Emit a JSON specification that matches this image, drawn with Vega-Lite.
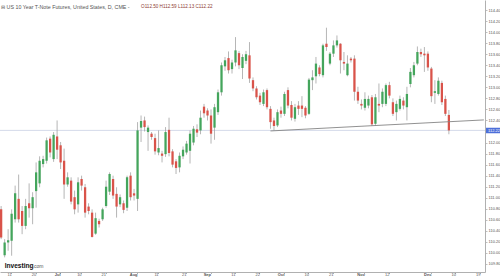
{
  "$schema": "https://vega.github.io/schema/vega-lite/v6.json",
  "width": 485,
  "height": 272,
  "padding": {"left": 0, "top": 0, "right": 15, "bottom": 5},
  "autosize": {"type": "none"},
  "background": "white",
  "config": {"view": {"stroke": null}, "font": "Liberation Sans", "axis": {"labelOverlap": false, "labelFlush": false, "grid": false, "title": null}},
  "datasets": {
    "ohlc": [
      {"d":"2025-06-06","o":110.79,"h":110.85,"l":110.25,"c":110.28},
      {"d":"2025-06-09","o":109.96,"h":110.25,"l":109.92,"c":110.19},
      {"d":"2025-06-10","o":110.19,"h":110.43,"l":110.04,"c":110.23},
      {"d":"2025-06-11","o":110.22,"h":110.79,"l":109.95,"c":110.71},
      {"d":"2025-06-12","o":110.61,"h":111.22,"l":110.55,"c":111.08},
      {"d":"2025-06-13","o":110.98,"h":111.42,"l":110.55,"c":110.61},
      {"d":"2025-06-16","o":110.76,"h":110.85,"l":110.34,"c":110.49},
      {"d":"2025-06-17","o":110.49,"h":110.98,"l":110.43,"c":110.85},
      {"d":"2025-06-18","o":110.90,"h":111.26,"l":110.64,"c":110.81},
      {"d":"2025-06-19","o":110.81,"h":111.10,"l":110.52,"c":111.01},
      {"d":"2025-06-20","o":111.12,"h":111.64,"l":110.82,"c":111.46},
      {"d":"2025-06-23","o":111.26,"h":111.75,"l":111.19,"c":111.67},
      {"d":"2025-06-24","o":111.61,"h":111.76,"l":111.55,"c":111.70},
      {"d":"2025-06-25","o":111.67,"h":112.09,"l":111.62,"c":112.04},
      {"d":"2025-06-26","o":112.07,"h":112.11,"l":111.73,"c":111.82},
      {"d":"2025-06-27","o":111.70,"h":112.19,"l":111.65,"c":112.14},
      {"d":"2025-06-30","o":112.11,"h":112.40,"l":111.70,"c":111.87},
      {"d":"2025-07-01","o":111.95,"h":112.01,"l":111.52,"c":111.64},
      {"d":"2025-07-02","o":111.67,"h":111.89,"l":110.98,"c":111.24},
      {"d":"2025-07-03","o":111.24,"h":111.46,"l":111.20,"c":111.37},
      {"d":"2025-07-07","o":111.31,"h":111.37,"l":110.88,"c":110.93},
      {"d":"2025-07-08","o":111.01,"h":111.13,"l":110.70,"c":110.79},
      {"d":"2025-07-09","o":110.88,"h":111.37,"l":110.73,"c":111.28},
      {"d":"2025-07-10","o":111.34,"h":111.40,"l":111.13,"c":111.22},
      {"d":"2025-07-11","o":111.19,"h":111.25,"l":110.64,"c":110.73},
      {"d":"2025-07-14","o":110.84,"h":110.90,"l":110.70,"c":110.76},
      {"d":"2025-07-15","o":110.73,"h":110.79,"l":110.28,"c":110.29},
      {"d":"2025-07-16","o":110.35,"h":110.73,"l":110.33,"c":110.63},
      {"d":"2025-07-17","o":110.58,"h":110.62,"l":110.46,"c":110.52},
      {"d":"2025-07-18","o":110.61,"h":110.82,"l":110.58,"c":110.79},
      {"d":"2025-07-21","o":110.85,"h":111.31,"l":110.82,"c":111.20},
      {"d":"2025-07-22","o":111.11,"h":111.46,"l":111.05,"c":111.43},
      {"d":"2025-07-23","o":111.34,"h":111.40,"l":110.98,"c":111.04},
      {"d":"2025-07-24","o":111.07,"h":111.19,"l":110.64,"c":110.84},
      {"d":"2025-07-25","o":110.88,"h":111.06,"l":110.83,"c":111.01},
      {"d":"2025-07-28","o":110.90,"h":110.95,"l":110.72,"c":110.78},
      {"d":"2025-07-29","o":110.82,"h":111.40,"l":110.76,"c":111.37},
      {"d":"2025-07-30","o":111.40,"h":111.46,"l":110.95,"c":111.01},
      {"d":"2025-07-31","o":111.08,"h":111.16,"l":110.95,"c":111.04},
      {"d":"2025-08-01","o":110.98,"h":112.37,"l":110.76,"c":112.22},
      {"d":"2025-08-04","o":112.27,"h":112.49,"l":112.01,"c":112.39},
      {"d":"2025-08-05","o":112.40,"h":112.47,"l":112.20,"c":112.28},
      {"d":"2025-08-06","o":112.19,"h":112.31,"l":111.85,"c":112.27},
      {"d":"2025-08-07","o":112.16,"h":112.19,"l":112.05,"c":112.10},
      {"d":"2025-08-08","o":112.08,"h":112.16,"l":111.78,"c":111.84},
      {"d":"2025-08-11","o":111.82,"h":112.22,"l":111.77,"c":111.90},
      {"d":"2025-08-12","o":111.80,"h":111.85,"l":111.64,"c":111.76},
      {"d":"2025-08-13","o":111.79,"h":112.28,"l":111.74,"c":112.19},
      {"d":"2025-08-14","o":112.23,"h":112.45,"l":111.75,"c":111.81},
      {"d":"2025-08-15","o":111.84,"h":111.88,"l":111.55,"c":111.60},
      {"d":"2025-08-18","o":111.66,"h":111.70,"l":111.43,"c":111.54},
      {"d":"2025-08-19","o":111.55,"h":111.82,"l":111.46,"c":111.76},
      {"d":"2025-08-20","o":111.75,"h":111.93,"l":111.70,"c":111.87},
      {"d":"2025-08-21","o":111.82,"h":112.03,"l":111.78,"c":111.98},
      {"d":"2025-08-22","o":111.85,"h":112.22,"l":111.62,"c":112.16},
      {"d":"2025-08-25","o":112.00,"h":112.30,"l":111.95,"c":112.25},
      {"d":"2025-08-26","o":112.24,"h":112.33,"l":112.10,"c":112.18},
      {"d":"2025-08-27","o":112.22,"h":112.58,"l":112.15,"c":112.45},
      {"d":"2025-08-28","o":112.65,"h":112.70,"l":112.45,"c":112.53},
      {"d":"2025-08-29","o":112.58,"h":112.62,"l":112.40,"c":112.49},
      {"d":"2025-09-02","o":112.49,"h":112.60,"l":111.98,"c":112.16},
      {"d":"2025-09-03","o":112.27,"h":112.70,"l":112.05,"c":112.64},
      {"d":"2025-09-04","o":112.55,"h":112.96,"l":112.50,"c":112.91},
      {"d":"2025-09-05","o":112.91,"h":113.45,"l":112.85,"c":113.40},
      {"d":"2025-09-08","o":113.38,"h":113.55,"l":113.30,"c":113.49},
      {"d":"2025-09-09","o":113.53,"h":113.65,"l":113.25,"c":113.31},
      {"d":"2025-09-10","o":113.33,"h":113.50,"l":113.25,"c":113.45},
      {"d":"2025-09-11","o":113.45,"h":113.91,"l":113.38,"c":113.67},
      {"d":"2025-09-12","o":113.62,"h":113.66,"l":113.33,"c":113.40},
      {"d":"2025-09-15","o":113.35,"h":113.60,"l":113.15,"c":113.55},
      {"d":"2025-09-16","o":113.48,"h":113.66,"l":113.42,"c":113.60},
      {"d":"2025-09-17","o":113.58,"h":113.82,"l":113.08,"c":113.16},
      {"d":"2025-09-18","o":113.13,"h":113.18,"l":112.93,"c":112.98},
      {"d":"2025-09-19","o":112.98,"h":113.02,"l":112.78,"c":112.82},
      {"d":"2025-09-22","o":112.85,"h":112.90,"l":112.68,"c":112.73},
      {"d":"2025-09-23","o":112.70,"h":112.96,"l":112.66,"c":112.91},
      {"d":"2025-09-24","o":112.95,"h":112.98,"l":112.60,"c":112.64},
      {"d":"2025-09-25","o":112.61,"h":112.66,"l":112.25,"c":112.37},
      {"d":"2025-09-26","o":112.40,"h":112.45,"l":112.22,"c":112.30},
      {"d":"2025-09-29","o":112.31,"h":112.60,"l":112.28,"c":112.55},
      {"d":"2025-09-30","o":112.58,"h":112.65,"l":112.45,"c":112.52},
      {"d":"2025-10-01","o":112.52,"h":112.92,"l":112.48,"c":112.88},
      {"d":"2025-10-02","o":112.95,"h":113.00,"l":112.62,"c":112.67},
      {"d":"2025-10-03","o":112.68,"h":112.75,"l":112.40,"c":112.45},
      {"d":"2025-10-06","o":112.43,"h":112.70,"l":112.38,"c":112.64},
      {"d":"2025-10-07","o":112.67,"h":112.75,"l":112.50,"c":112.61},
      {"d":"2025-10-08","o":112.67,"h":112.84,"l":112.46,"c":112.61},
      {"d":"2025-10-09","o":112.63,"h":112.66,"l":112.44,"c":112.49},
      {"d":"2025-10-10","o":112.52,"h":113.17,"l":112.50,"c":113.14},
      {"d":"2025-10-13","o":113.13,"h":113.31,"l":112.95,"c":113.18},
      {"d":"2025-10-14","o":113.20,"h":113.55,"l":113.07,"c":113.43},
      {"d":"2025-10-15","o":113.36,"h":113.40,"l":113.20,"c":113.24},
      {"d":"2025-10-16","o":113.22,"h":113.79,"l":113.18,"c":113.76},
      {"d":"2025-10-17","o":113.79,"h":114.08,"l":113.66,"c":113.73},
      {"d":"2025-10-20","o":113.43,"h":113.64,"l":113.40,"c":113.61},
      {"d":"2025-10-21","o":113.61,"h":113.85,"l":113.55,"c":113.76},
      {"d":"2025-10-22","o":113.76,"h":113.94,"l":113.72,"c":113.85},
      {"d":"2025-10-23","o":113.79,"h":113.80,"l":113.25,"c":113.49},
      {"d":"2025-10-24","o":113.46,"h":113.64,"l":113.31,"c":113.43},
      {"d":"2025-10-27","o":113.22,"h":113.58,"l":113.20,"c":113.43},
      {"d":"2025-10-28","o":113.52,"h":113.55,"l":113.45,"c":113.49},
      {"d":"2025-10-29","o":113.52,"h":113.58,"l":112.76,"c":112.92},
      {"d":"2025-10-30","o":112.92,"h":113.01,"l":112.70,"c":112.76},
      {"d":"2025-10-31","o":112.70,"h":112.78,"l":112.60,"c":112.67},
      {"d":"2025-11-03","o":112.63,"h":112.91,"l":112.58,"c":112.79},
      {"d":"2025-11-04","o":112.67,"h":112.85,"l":112.62,"c":112.79},
      {"d":"2025-11-05","o":112.82,"h":112.86,"l":112.30,"c":112.33},
      {"d":"2025-11-06","o":112.34,"h":112.88,"l":112.30,"c":112.82},
      {"d":"2025-11-07","o":112.70,"h":113.07,"l":112.55,"c":112.67},
      {"d":"2025-11-10","o":112.70,"h":112.98,"l":112.64,"c":112.92},
      {"d":"2025-11-11","o":112.70,"h":113.07,"l":112.66,"c":113.04},
      {"d":"2025-11-12","o":113.04,"h":113.10,"l":112.80,"c":112.85},
      {"d":"2025-11-13","o":112.73,"h":112.80,"l":112.48,"c":112.52},
      {"d":"2025-11-14","o":112.55,"h":112.76,"l":112.40,"c":112.70},
      {"d":"2025-11-17","o":112.61,"h":112.85,"l":112.58,"c":112.79},
      {"d":"2025-11-18","o":112.76,"h":112.82,"l":112.60,"c":112.67},
      {"d":"2025-11-19","o":112.64,"h":113.01,"l":112.40,"c":112.88},
      {"d":"2025-11-20","o":113.06,"h":113.35,"l":113.00,"c":113.28},
      {"d":"2025-11-21","o":113.22,"h":113.46,"l":113.18,"c":113.40},
      {"d":"2025-11-24","o":113.43,"h":113.74,"l":113.40,"c":113.64},
      {"d":"2025-11-25","o":113.64,"h":113.70,"l":113.55,"c":113.60},
      {"d":"2025-11-26","o":113.61,"h":113.73,"l":113.28,"c":113.58},
      {"d":"2025-11-28","o":113.61,"h":113.65,"l":113.30,"c":113.36},
      {"d":"2025-12-01","o":113.34,"h":113.37,"l":112.73,"c":112.84},
      {"d":"2025-12-02","o":112.90,"h":113.13,"l":112.70,"c":112.93},
      {"d":"2025-12-03","o":112.88,"h":113.18,"l":112.85,"c":113.12},
      {"d":"2025-12-04","o":113.08,"h":113.12,"l":112.68,"c":112.73},
      {"d":"2025-12-05","o":112.79,"h":112.85,"l":112.48,"c":112.52},
      {"d":"2025-12-08","o":112.50,"h":112.59,"l":112.15,"c":112.22}
    ],
    "trend": [
      {"d":"2025-09-25","p":112.21},
      {"d":"2025-12-22","p":112.41}
    ]
  },
  "layer": [
    {
      "data": {"values": [{"p": 112.22}]},
      "mark": {"type": "rule", "color": "#c9d1e4", "strokeWidth": 0.8},
      "encoding": {"y": {"field": "p", "type": "quantitative", "axis": {"title": null, "tickCount": 100}}}
    },
    {
      "data": {"name": "ohlc"},
      "mark": {"type": "rule", "color": "#a3a3a3", "strokeWidth": 0.8},
      "encoding": {
        "x": {"field": "d", "type": "ordinal", "axis": {"title": null}},
        "y": {"field": "l", "type": "quantitative", "axis": {"title": null, "tickCount": 100}},
        "y2": {"field": "h"}
      }
    },
    {
      "data": {"name": "ohlc"},
      "mark": {"type": "bar"},
      "encoding": {
        "x": {
          "field": "d", "type": "ordinal",
          "scale": {
            "paddingInner": 0.35, "paddingOuter": 0,
            "domain": ["2025-06-06","2025-06-09","2025-06-10","2025-06-11","2025-06-12","2025-06-13","2025-06-16","2025-06-17","2025-06-18","2025-06-19","2025-06-20","2025-06-23","2025-06-24","2025-06-25","2025-06-26","2025-06-27","2025-06-30","2025-07-01","2025-07-02","2025-07-03","2025-07-07","2025-07-08","2025-07-09","2025-07-10","2025-07-11","2025-07-14","2025-07-15","2025-07-16","2025-07-17","2025-07-18","2025-07-21","2025-07-22","2025-07-23","2025-07-24","2025-07-25","2025-07-28","2025-07-29","2025-07-30","2025-07-31","2025-08-01","2025-08-04","2025-08-05","2025-08-06","2025-08-07","2025-08-08","2025-08-11","2025-08-12","2025-08-13","2025-08-14","2025-08-15","2025-08-18","2025-08-19","2025-08-20","2025-08-21","2025-08-22","2025-08-25","2025-08-26","2025-08-27","2025-08-28","2025-08-29","2025-09-02","2025-09-03","2025-09-04","2025-09-05","2025-09-08","2025-09-09","2025-09-10","2025-09-11","2025-09-12","2025-09-15","2025-09-16","2025-09-17","2025-09-18","2025-09-19","2025-09-22","2025-09-23","2025-09-24","2025-09-25","2025-09-26","2025-09-29","2025-09-30","2025-10-01","2025-10-02","2025-10-03","2025-10-06","2025-10-07","2025-10-08","2025-10-09","2025-10-10","2025-10-13","2025-10-14","2025-10-15","2025-10-16","2025-10-17","2025-10-20","2025-10-21","2025-10-22","2025-10-23","2025-10-24","2025-10-27","2025-10-28","2025-10-29","2025-10-30","2025-10-31","2025-11-03","2025-11-04","2025-11-05","2025-11-06","2025-11-07","2025-11-10","2025-11-11","2025-11-12","2025-11-13","2025-11-14","2025-11-17","2025-11-18","2025-11-19","2025-11-20","2025-11-21","2025-11-24","2025-11-25","2025-11-26","2025-11-28","2025-12-01","2025-12-02","2025-12-03","2025-12-04","2025-12-05","2025-12-08","2025-12-09","2025-12-10","2025-12-11","2025-12-12","2025-12-15","2025-12-16","2025-12-17","2025-12-18","2025-12-19","2025-12-22"]
          },
          "axis": {
            "title": null,
            "values": ["2025-06-11","2025-06-20","2025-07-01","2025-07-10","2025-07-21","2025-08-01","2025-08-11","2025-08-21","2025-09-02","2025-09-11","2025-09-22","2025-10-01","2025-10-10","2025-10-21","2025-11-03","2025-11-12","2025-12-01","2025-12-10","2025-12-19"],
            "labelExpr": "toNumber(substring(datum.value,8,10)) <= 3 ? ['Jan','Feb','Mar','Apr','May','Jun','Jul','Aug','Sep','Oct','Nov','Dec'][toNumber(substring(datum.value,5,7))-1] : substring(datum.value,8,10)",
            "labelFontWeight": {"condition": {"test": "toNumber(substring(datum.value,8,10)) <= 3", "value": "bold"}, "value": "normal"},
            "labelAngle": 0,
            "labelFontSize": 4,
            "labelColor": "#555555",
            "labelPadding": 0.5,
            "labelOverlap": false,
            "labelFlush": false,
            "tickSize": 1.5,
            "tickColor": "#b0b0b0",
            "domainColor": "#b0b0b0",
            "grid": false
          }
        },
        "y": {
          "field": "o", "type": "quantitative",
          "scale": {"domain": [109.655, 114.582], "nice": false, "zero": false},
          "axis": {
            "title": null,
            "orient": "right",
            "tickCount": 100,
            "values": [109.8,110,110.2,110.4,110.6,110.8,111,111.2,111.4,111.6,111.8,112,112.22,112.4,112.6,112.8,113,113.2,113.4,113.6,113.8,114,114.2,114.4],
            "labelExpr": "format(datum.value, '.2f')",
            "labelFontSize": 4,
            "labelColor": {"condition": {"test": "datum.value == 112.22", "value": "#ffffff"}, "value": "#555555"},
            "tickColor": {"condition": {"test": "datum.value == 112.22", "value": "#4d6fd9"}, "value": "#b0b0b0"},
            "tickSize": {"condition": {"test": "datum.value == 112.22", "value": 15}, "value": 2},
            "tickWidth": {"condition": {"test": "datum.value == 112.22", "value": 5.5}, "value": 0.8},
            "labelPadding": {"condition": {"test": "datum.value == 112.22", "value": -12.5}, "value": 1},
            "labelOverlap": false,
            "labelFlush": false,
            "labelBound": false,
            "domainColor": "#b0b0b0",
            "grid": false
          }
        },
        "y2": {"field": "c"},
        "color": {
          "condition": {"test": "datum.c >= datum.o", "value": "#44a55c"},
          "value": "#d9534a"
        }
      }
    },
    {
      "data": {"name": "trend"},
      "mark": {"type": "line", "color": "#858585", "strokeWidth": 0.9},
      "encoding": {
        "x": {"field": "d", "type": "ordinal", "axis": {"title": null}},
        "y": {"field": "p", "type": "quantitative", "axis": {"title": null, "tickCount": 100}}
      }
    },
    {
      "data": {"values": [{"t": "⊟ US 10 Year T-Note Futures, United States, D, CME  -"}]},
      "mark": {"type": "text", "align": "left", "baseline": "middle", "fontSize": 5.3, "color": "#555555"},
      "encoding": {
        "x": {"datum": "2025-06-06", "type": "ordinal", "axis": {"title": null}},
        "y": {"datum": 114.46, "type": "quantitative", "axis": {"title": null, "tickCount": 100}},
        "text": {"field": "t"}
      }
    },
    {
      "data": {"values": [{"t": "O112.50  H112.59  L112.13  C112.22"}]},
      "mark": {"type": "text", "align": "left", "baseline": "middle", "fontSize": 4.6, "color": "#8e3b34"},
      "encoding": {
        "x": {"datum": "2025-08-04", "type": "ordinal", "axis": {"title": null}},
        "y": {"datum": 114.46, "type": "quantitative", "axis": {"title": null, "tickCount": 100}},
        "text": {"field": "t"}
      }
    },
    {
      "data": {"values": [{"t": "Investing"}]},
      "mark": {"type": "text", "align": "left", "baseline": "middle", "fontSize": 6.6, "fontWeight": "bold", "color": "#111111"},
      "encoding": {
        "x": {"datum": "2025-06-09", "type": "ordinal", "axis": {"title": null}},
        "y": {"datum": 109.77, "type": "quantitative", "axis": {"title": null, "tickCount": 100}},
        "text": {"field": "t"}
      }
    },
    {
      "data": {"values": [{"t": ".com"}]},
      "mark": {"type": "text", "align": "left", "baseline": "middle", "fontSize": 5, "color": "#555555", "dy": 0.5},
      "encoding": {
        "x": {"datum": "2025-06-19", "type": "ordinal", "axis": {"title": null}},
        "y": {"datum": 109.77, "type": "quantitative", "axis": {"title": null, "tickCount": 100}},
        "text": {"field": "t"}
      }
    }
  ]
}
